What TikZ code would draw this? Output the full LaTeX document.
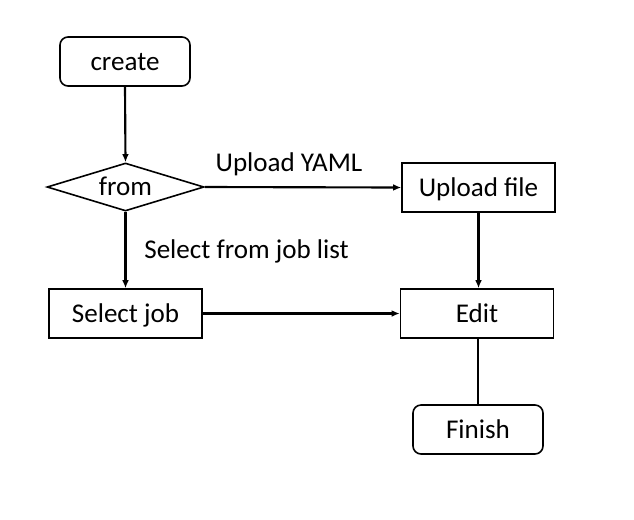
\documentclass[tikz,border=0pt]{standalone}
\usepackage{fontspec}
\setmainfont{Carlito}
\usepackage{xcolor}
\usepackage{tikz}
\usetikzlibrary{arrows.meta,positioning,shapes.geometric}

\begin{document}
\begin{tikzpicture}[x=.75pt,y=-.75pt]
  \path[use as bounding box] (0,0) rectangle (634,519);

  \tikzset{
    jobFlowBox/.style={
      draw=black,
      line width=1.2pt,
      minimum width=114.75pt,
      minimum height=36.75pt,
      inner sep=0pt,
      text height=13pt,
      text depth=0pt,
      align=center,
      font=\fontsize{20.3}{24}\selectfont,
      text=black
    },
    jobFlowRound/.style={
      jobFlowBox,
      rounded corners=6pt,
      minimum width=97.5pt
    },
    jobFlowDecision/.style={
      jobFlowBox,
      diamond,
      aspect=3.27,
      minimum width=117.75pt,
      minimum height=36pt
    },
    jobFlowArrow/.style={
      -{Latex[length=6pt,width=5pt]},
      draw=black,
      line width=1.6pt
    },
    jobFlowLine/.style={
      draw=black,
      line width=1.6pt
    },
    jobFlowLabel/.style={
      inner sep=0pt,
      text height=13pt,
      text depth=0pt,
      font=\fontsize{20.3}{24}\selectfont,
      text=black
    }
  }

  \node[jobFlowRound] (create) at (125,61.5) {create};
  \node[jobFlowDecision] (from) at (125.5,187) {from};
  \node[jobFlowBox] (upload) at (478.5,187.5) {Upload file};
  \node[jobFlowBox] (select) at (125.5,313.5) {Select job};
  \node[jobFlowBox] (edit) at (477,313.5) {Edit};
  \node[jobFlowRound] (finish) at (478,429.5) {Finish};

  \draw[jobFlowArrow] (create.south) -- (from.north);
  \draw[jobFlowArrow] (from.east) -- (upload.west);
  \draw[jobFlowArrow] (from.south) -- (select.north);
  \draw[jobFlowArrow] (upload.south) -- (upload.south |- edit.north);
  \draw[jobFlowArrow] (select.east) -- (edit.west);
  \draw[jobFlowLine] (finish.north |- edit.south) -- (finish.north);

  \node[jobFlowLabel] (yamlLabel) at (289,162.5) {Upload YAML};
  \node[jobFlowLabel] (listLabel) at (246.5,249.5) {Select from job list};
\end{tikzpicture}
\end{document}
